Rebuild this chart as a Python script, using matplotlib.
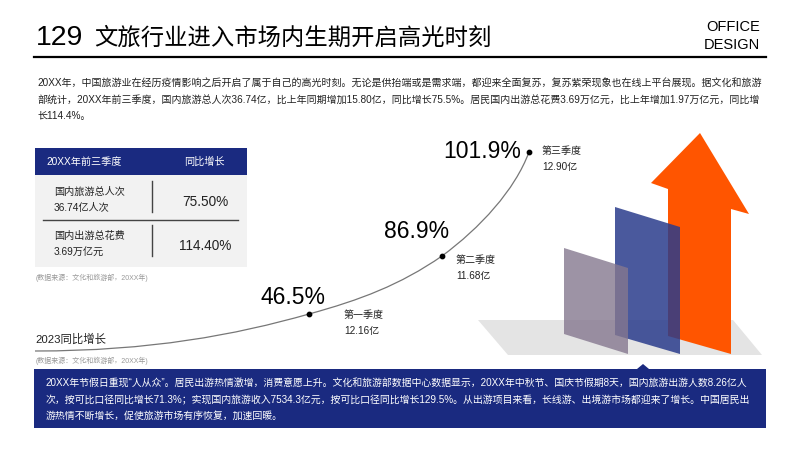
# 文旅行业 slide
import matplotlib
matplotlib.use('Agg')
import matplotlib.pyplot as plt
from matplotlib.patches import Polygon, Rectangle, PathPatch
from matplotlib.path import Path

plt.rcParams['font.family'] = ['Liberation Sans', 'Noto Sans CJK SC', 'DejaVu Sans']

NAVY = '#1a2a80'
DARK = '#222222'

# text
title_no = '129'
title = '文旅行业进入市场内生期开启高光时刻'
intro_lines = [
    '20XX年，中国旅游业在经历疫情影响之后开启了属于自己的高光时刻。无论是供抬端或是需求端，都迎来全面复苏，复苏紫荣现象也在线上平台展现。据文化和旅游',
    '部统计，20XX年前三季度，国内旅游总人次36.74亿，比上年同期增加15.80亿，同比增长75.5%。居民国内出游总花费3.69万亿元，比上年增加1.97万亿元，同比增',
    '长114.4%。',
]
note_lines = [
    '20XX年节假日重现“人从众”。居民出游热情激增，消费意愿上升。文化和旅游部数据中心数据显示，20XX年中秋节、国庆节假期8天，国内旅游出游人数8.26亿人',
    '次，按可比口径同比增长71.3%；实现国内旅游收入7534.3亿元，按可比口径同比增长129.5%。从出游项目来看，长线游、出境游市场都迎来了增长。中国居民出',
    '游热情不断增长，促使旅游市场有序恢复，加速回暖。',
]
source = '(数据来源：文化和旅游部，20XX年)'

# table
table_head = ['20XX年前三季度', '同比增长']
table_items = ['国内旅游总人次', '国内出游总花费']
table_amounts = ['36.74亿人次', '3.69万亿元']
table_growth = ['75.50%', '114.40%']

# curve in pixels
quarters = ['第一季度', '第二季度', '第三季度']
amounts = ['12.16亿', '11.68亿', '12.90亿']
growth = ['46.5%', '86.9%', '101.9%']
dot_x = [309, 442, 529]
dot_y = [314, 256, 152]

# 3d shapes, pixels
floor_shape = [(478, 320), (733, 320), (762, 355), (508, 355)]
gray_panel = [(564, 248), (628, 268), (628, 354), (564, 334)]
blue_panel = [(615, 207), (680, 227), (680, 354), (615, 335)]
arrow_shape = [(700, 133), (749, 214), (731, 209), (731, 354), (668, 336), (668, 189), (651, 183)]

fig = plt.figure(figsize=(8, 4.5), dpi=100)
ax = fig.add_axes([0, 0, 1, 1])
ax.set_xlim(0, 800)
ax.set_ylim(450, 0)
ax.axis('off')

# header
ax.text(36, 38, title_no, fontsize=20.5, color='black', va='center')
ax.text(94, 38, title, fontsize=16.8, color='black', va='center')
ax.text(760, 27, 'OFFICE', fontsize=10.5, color='black', ha='right', va='center')
ax.text(760, 45, 'DESIGN', fontsize=10.5, color='black', ha='right', va='center')
ax.plot([34, 766], [56.5, 56.5], color='black', lw=1.6)

# intro text
for i, line in enumerate(intro_lines):
    ax.text(37, 84 + i * 16, line, fontsize=7.2, color=DARK, va='center')

# table
ax.add_patch(Rectangle((35, 148), 212, 119, color='#f2f2f2', lw=0))
ax.add_patch(Rectangle((35, 148), 212, 27, color=NAVY, lw=0))
ax.text(46, 162, table_head[0], fontsize=7.3, color='white', va='center')
ax.text(204, 162, table_head[1], fontsize=7.3, color='white', ha='center', va='center')
for i in range(2):
    y = 192 + i * 44
    ax.text(54, y, table_items[i], fontsize=7.3, color=DARK, va='center')
    ax.text(54, y + 16, table_amounts[i], fontsize=7.3, color=DARK, va='center')
    ax.text(205, y + 10, table_growth[i], fontsize=9.8, color=DARK, ha='center', va='center')
    ax.plot([152, 152], [y - 11, y + 20], color='#444444', lw=1)
ax.plot([43, 238], [220, 220], color='#444444', lw=1)
ax.text(36, 278, source, fontsize=5, color='#999999', va='center')

# growth curve
verts = [(35, 351), (150, 351), (235, 335), (dot_x[0], dot_y[0]),
         (360, 300), (400, 285), (dot_x[1], dot_y[1]),
         (480, 228), (515, 190), (dot_x[2], dot_y[2])]
codes = [Path.MOVETO] + [Path.CURVE4] * 9
ax.add_patch(PathPatch(Path(verts, codes), fc='none', ec='#777777', lw=0.9))
ax.scatter(dot_x, dot_y, s=10, color='black', zorder=3)

growth_x = [293, 417, 482]
growth_y = [297, 232, 151]
label_x = [344, 456, 542]
label_y = [315, 260, 151]
for i in range(3):
    ax.text(growth_x[i], growth_y[i], growth[i], fontsize=16.5, color='black', ha='center', va='center')
    ax.text(label_x[i], label_y[i], quarters[i], fontsize=7.2, color=DARK, va='center')
    ax.text(label_x[i], label_y[i] + 16, amounts[i], fontsize=7.2, color=DARK, va='center')

ax.text(35, 339, '2023同比增长', fontsize=8.2, color=DARK, va='center')
ax.text(36, 361, source, fontsize=5, color='#999999', va='center')

# arrow and panels
ax.add_patch(Polygon(floor_shape, color='#e4e4e4', lw=0))
ax.add_patch(Polygon(arrow_shape, color='#ff5500', lw=0))
ax.add_patch(Polygon(blue_panel, color='#2a3c8c', alpha=0.85, lw=0))
ax.add_patch(Polygon(gray_panel, color='#85788f', alpha=0.8, lw=0))

# bottom box
ax.add_patch(Rectangle((34, 369), 732, 59, color=NAVY, lw=0))
ax.add_patch(Polygon([(637, 369), (643, 364), (649, 369)], color=NAVY, lw=0))
for i, line in enumerate(note_lines):
    ax.text(46, 384 + i * 16, line, fontsize=7.15, color='white', va='center')

fig.savefig('out.png', dpi=100)
